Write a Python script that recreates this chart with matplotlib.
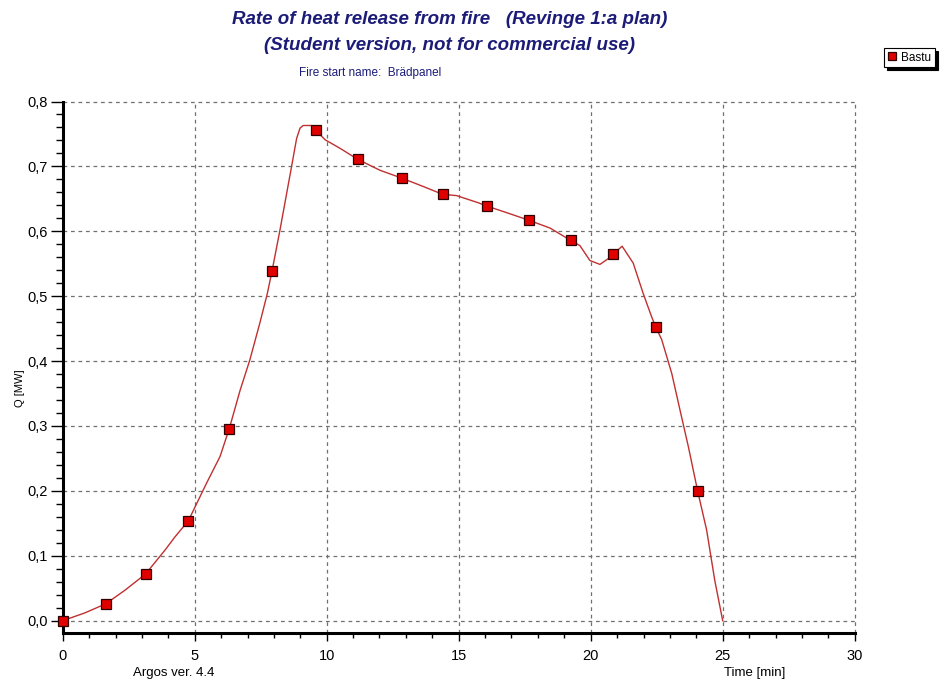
import matplotlib
matplotlib.use("Agg")
import matplotlib.pyplot as plt
from matplotlib.ticker import MultipleLocator, FuncFormatter

# Smooth curve
line_t = [0.0, 0.84, 1.63, 2.36, 3.14, 3.88, 4.25, 4.76, 5.45, 5.96, 6.31, 6.72, 7.09,
          7.47, 7.75, 7.93, 8.23, 8.67, 8.86, 8.99, 9.11, 9.43, 9.58, 9.94, 10.50,
          11.17, 12.02, 12.84, 13.66, 14.39, 14.92, 15.74, 16.06, 16.87, 17.66, 18.46,
          19.24, 19.59, 19.97, 20.35, 20.67, 20.86, 21.19, 21.61, 21.99, 22.31, 22.46,
          22.69, 23.07, 23.38, 23.70, 24.05, 24.39, 24.70, 25.0]
line_q = [0.0, 0.012, 0.026, 0.047, 0.072, 0.109, 0.129, 0.154, 0.212, 0.253, 0.296,
          0.355, 0.402, 0.459, 0.504, 0.539, 0.602, 0.700, 0.743, 0.759, 0.763, 0.763,
          0.756, 0.741, 0.728, 0.711, 0.694, 0.682, 0.669, 0.657, 0.655, 0.644, 0.639,
          0.628, 0.617, 0.605, 0.586, 0.578, 0.555, 0.549, 0.558, 0.565, 0.577, 0.551,
          0.504, 0.468, 0.453, 0.433, 0.381, 0.325, 0.268, 0.200, 0.140, 0.062, 0.0]

# Marker points
mark_t = [0.0, 1.63, 3.14, 4.76, 6.31, 7.93, 9.58, 11.17, 12.84, 14.39, 16.06,
          17.66, 19.24, 20.86, 22.46, 24.05]
mark_q = [0.0, 0.026, 0.072, 0.154, 0.296, 0.539, 0.756, 0.711, 0.682, 0.657, 0.639,
          0.617, 0.586, 0.565, 0.453, 0.200]

series_name = "Bastu"
title1 = "Rate of heat release from fire   (Revinge 1:a plan)"
title2 = "(Student version, not for commercial use)"
subtitle = "Fire start name:  Brädpanel"

plt.rcParams['font.family'] = ['Liberation Sans', 'DejaVu Sans']
navy = '#1c1c78'

fig = plt.figure(figsize=(9.5, 6.84), dpi=100)
fig.patch.set_facecolor('white')
ax = fig.add_axes([62.7/950, 1-632.7/684, (854.7-62.7)/950, (632.7-101.5)/684])

ax.plot(line_t, line_q, color='#c03030', lw=1.0, zorder=3)
ax.plot(mark_t, mark_q, linestyle='none', marker='s', markersize=6.8,
        markerfacecolor='#e00000', markeredgecolor='#300000', markeredgewidth=0.9,
        zorder=4, clip_on=False, label=series_name)

ax.set_xlim(0, 30)
ax.set_ylim(-0.0185, 0.8)

ax.xaxis.set_major_locator(MultipleLocator(5))
ax.xaxis.set_minor_locator(MultipleLocator(1))
ax.yaxis.set_major_locator(MultipleLocator(0.1))
ax.yaxis.set_minor_locator(MultipleLocator(0.02))
ax.yaxis.set_major_formatter(FuncFormatter(lambda v, p: f"{v:.1f}".replace('.', ',')))
ax.xaxis.set_major_formatter(FuncFormatter(lambda v, p: f"{v:.0f}"))

ax.grid(True, which='major', color='#707070', linestyle=(0, (3, 3)), lw=0.9)
for s in ['top', 'right']:
    ax.spines[s].set_visible(False)
for s in ['left', 'bottom']:
    ax.spines[s].set_linewidth(2.2)
    ax.spines[s].set_color('black')

ax.tick_params(axis='x', which='major', direction='out', length=6, width=1, labelsize=10.5, pad=6)
ax.tick_params(axis='x', which='minor', direction='out', length=3.5, width=1)
ax.tick_params(axis='y', which='major', direction='out', length=9, width=1, labelsize=10.5, pad=2)
ax.tick_params(axis='y', which='minor', direction='out', length=5, width=1)

ax.set_ylabel("Q [MW]", fontsize=8)
ax.yaxis.set_label_coords(-0.048, 0.46)

fig.canvas.draw()
for gl in ax.get_xgridlines() + ax.get_ygridlines():
    gl.set_clip_on(False)

fig.text(450/950, 1-20/684, title1, ha='center', va='center', fontsize=13.5,
         fontweight='bold', fontstyle='italic', color=navy)
fig.text(450/950, 1-46/684, title2, ha='center', va='center', fontsize=13.5,
         fontweight='bold', fontstyle='italic', color=navy)
fig.text(370/950, 1-73/684, subtitle, ha='center', va='center', fontsize=8.5, color=navy)

fig.text(174/950, 1-673/684, "Argos ver. 4.4", ha='center', va='center', fontsize=9.5)
fig.text(755/950, 1-673/684, "Time [min]", ha='center', va='center', fontsize=9.5)

leg = fig.legend(loc='upper left', bbox_to_anchor=(884/950, 1-48/684), frameon=True,
                 fancybox=False, shadow={'color': 'black', 'alpha': 1.0},
                 fontsize=8.5, handlelength=0.7, handletextpad=0.45, borderpad=0.3,
                 borderaxespad=0, markerscale=0.85)
leg.get_frame().set_edgecolor('black')
leg.get_frame().set_linewidth(0.8)

fig.savefig("out.png", dpi=100)
